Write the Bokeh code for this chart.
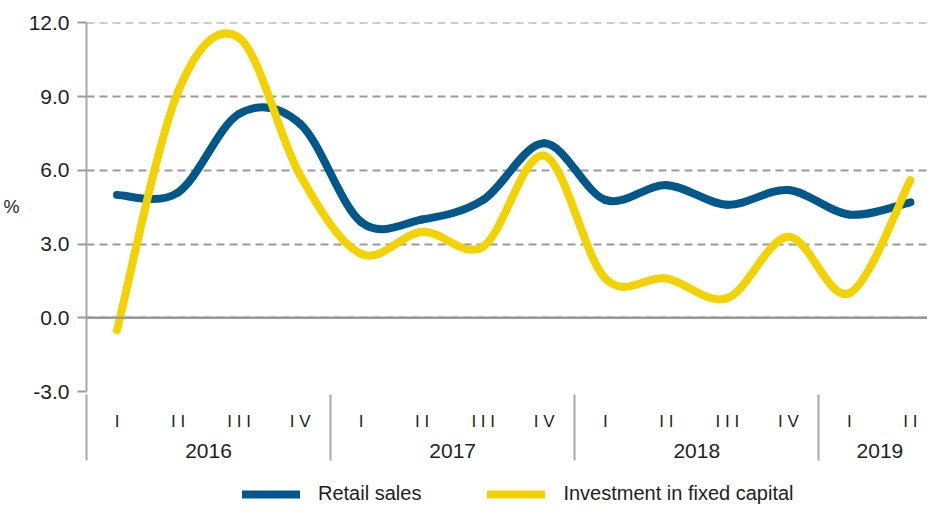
from bokeh.plotting import figure
from bokeh.layouts import column
from bokeh.models import (ColumnDataSource, Range1d, LinearAxis, FixedTicker, Span,
                          Legend, LegendItem, CustomJSTickFormatter, NumeralTickFormatter)
from bokeh.embed import file_html
from bokeh.resources import INLINE

# ---------------- data ----------------
period_year = ["2016"] * 4 + ["2017"] * 4 + ["2018"] * 4 + ["2019"] * 2
period_quarter = ["I", "I I", "I I I", "I V"] * 3 + ["I", "I I"]
retail_sales = [5.0, 5.1, 8.3, 7.9, 3.9, 4.0, 4.8, 7.1, 4.8, 5.4, 4.6, 5.2, 4.2, 4.7]
investment = [-0.5, 9.2, 11.4, 5.8, 2.6, 3.5, 2.9, 6.6, 1.6, 1.6, 0.8, 3.3, 1.0, 5.6]
y_ticks = [-3, 0, 3, 6, 9, 12]
series_names = ["Retail sales", "Investment in fixed capital"]

# ---------------- derived positions ----------------
idx = list(range(len(period_quarter)))
years = []
for y in period_year:
    if y not in years:
        years.append(y)
year_centers = [sum(i for i in idx if period_year[i] == y) / period_year.count(y) for y in years]
separators = [-0.5] + [i - 0.5 for i in idx[1:] if period_year[i] != period_year[i - 1]]

BLUE = "#00578A"
YELLOW = "#F2D200"
GRID = "#9a9a9a"
SEP = "#a8a8a8"
TEXT = "#1e1e1e"
FONT = "Liberation Sans"


def bezier_source(ys):
    xs = idx
    n = len(ys)
    d = dict(x0=[], y0=[], x1=[], y1=[], cx0=[], cy0=[], cx1=[], cy1=[])
    for i in range(n - 1):
        xm, ym = (xs[i - 1], ys[i - 1]) if i > 0 else (xs[i], ys[i])
        xp, yp = (xs[i + 2], ys[i + 2]) if i + 2 < n else (xs[i + 1], ys[i + 1])
        d["x0"].append(xs[i]); d["y0"].append(ys[i])
        d["x1"].append(xs[i + 1]); d["y1"].append(ys[i + 1])
        d["cx0"].append(xs[i] + (xs[i + 1] - xm) / 6.0)
        d["cy0"].append(ys[i] + (ys[i + 1] - ym) / 6.0)
        d["cx1"].append(xs[i + 1] - (xp - xs[i]) / 6.0)
        d["cy1"].append(ys[i + 1] - (yp - ys[i]) / 6.0)
    return ColumnDataSource(d)


p = figure(width=927, height=466, output_backend="svg", toolbar_location=None,
           x_range=Range1d(-0.5, 13.28), y_range=Range1d(-3, 12.02),
           x_axis_location=None, y_axis_location="left",
           min_border_left=78, min_border_right=0, min_border_top=22, min_border_bottom=75)
p.outline_line_color = None
p.background_fill_color = "white"
p.border_fill_color = "white"

# y axis
yax = p.yaxis[0]
yax.ticker = FixedTicker(ticks=y_ticks)
yax.formatter = NumeralTickFormatter(format="0.0")
yax.axis_line_color = SEP
yax.axis_line_width = 2
yax.major_tick_out = 9
yax.major_tick_in = 0
yax.major_tick_line_color = GRID
yax.major_tick_line_width = 2
yax.minor_tick_line_color = None
yax.major_label_standoff = 8
yax.major_label_text_font = FONT
yax.major_label_text_font_size = "21px"
yax.major_label_text_color = TEXT
yax.axis_label = "%"
yax.axis_label_orientation = "horizontal"
yax.axis_label_standoff = 6
yax.axis_label_text_font = FONT
yax.axis_label_text_font_style = "normal"
yax.axis_label_text_font_size = "18px"
yax.axis_label_text_color = TEXT

p.ygrid.ticker = FixedTicker(ticks=y_ticks)
p.ygrid.grid_line_color = GRID
p.ygrid.grid_line_width = 2
p.ygrid.grid_line_dash = "8 5"
p.xgrid.visible = False

p.add_layout(Span(location=0, dimension="width", line_color=GRID, line_width=2.5))

# quarter axis
qax = LinearAxis(ticker=FixedTicker(ticks=idx),
                 formatter=CustomJSTickFormatter(args=dict(labels=period_quarter),
                                                 code="return labels[Math.round(tick)];"))
qax.axis_line_color = None
qax.major_tick_out = 0
qax.major_tick_in = 0
qax.major_tick_line_color = None
qax.minor_tick_line_color = None
qax.major_label_standoff = 20
qax.major_label_text_font = FONT
qax.major_label_text_font_size = "17px"
qax.major_label_text_color = TEXT
p.add_layout(qax, "below")

# year axis (year separators drawn as its minor ticks, reaching up to the plot)
yrax = LinearAxis(ticker=FixedTicker(ticks=year_centers, minor_ticks=separators),
                  formatter=CustomJSTickFormatter(args=dict(pos=year_centers, labels=years),
                                                  code="const i = pos.findIndex(v => Math.abs(v - tick) < 1e-6); return i >= 0 ? labels[i] : '';"))
yrax.axis_line_color = None
yrax.major_tick_out = 0
yrax.major_tick_in = 0
yrax.major_tick_line_color = None
yrax.minor_tick_in = 39
yrax.minor_tick_out = 27
yrax.minor_tick_line_color = SEP
yrax.minor_tick_line_width = 2
yrax.major_label_standoff = -17
yrax.major_label_text_font = FONT
yrax.major_label_text_font_size = "21px"
yrax.major_label_text_color = TEXT
p.add_layout(yrax, "below")

# lines
r1 = p.bezier(x0="x0", y0="y0", x1="x1", y1="y1", cx0="cx0", cy0="cy0", cx1="cx1", cy1="cy1",
              source=bezier_source(retail_sales), line_color=BLUE, line_width=8, line_cap="round")
r2 = p.bezier(x0="x0", y0="y0", x1="x1", y1="y1", cx0="cx0", cy0="cy0", cx1="cx1", cy1="cy1",
              source=bezier_source(investment), line_color=YELLOW, line_width=8, line_cap="round")

# legend strip (series drawn again, outside its visible range, only to key the legend)
lg = figure(width=927, height=39, output_backend="svg", toolbar_location=None,
            x_range=Range1d(-0.5, 13.28), y_range=Range1d(100, 101),
            x_axis_location=None, y_axis_location=None,
            min_border=0, min_border_left=0, min_border_right=0, min_border_top=0, min_border_bottom=0)
lg.outline_line_color = None
lg.xgrid.visible = False
lg.ygrid.visible = False
l1 = lg.line(x=idx, y=retail_sales, line_color=BLUE, line_width=8, line_cap="round")
l2 = lg.line(x=idx, y=investment, line_color=YELLOW, line_width=8, line_cap="round")
legend = Legend(items=[LegendItem(label=series_names[0], renderers=[l1]),
                       LegendItem(label=series_names[1], renderers=[l2])],
                orientation="horizontal", location=(156, 0),
                glyph_width=58, glyph_height=20, label_standoff=18, spacing=66,
                padding=0, margin=0, border_line_color=None, background_fill_alpha=0,
                label_text_font=FONT, label_text_font_size="20px", label_text_color=TEXT)
lg.add_layout(legend, "center")

layout = column(p, lg, spacing=0)
open("out.html", "w").write(file_html(layout, INLINE))
